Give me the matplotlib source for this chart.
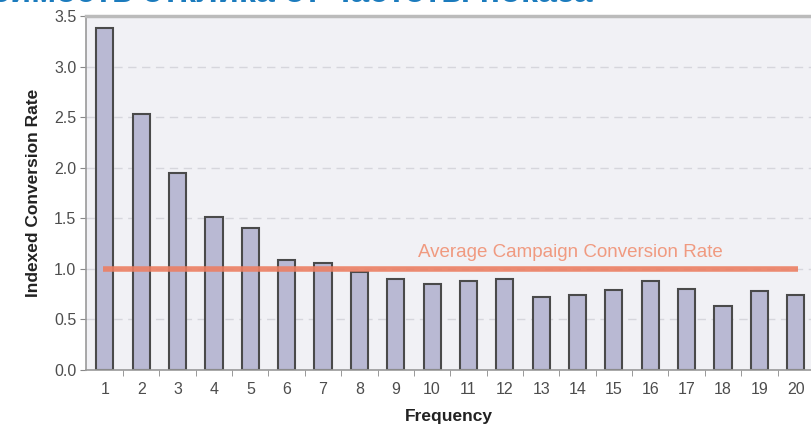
import matplotlib.pyplot as plt

plt.rcParams['font.family'] = ['Liberation Sans', 'DejaVu Sans']

# data
frequency = list(range(1, 21))
conversion = [3.39, 2.53, 1.95, 1.51, 1.41, 1.09, 1.06, 0.97, 0.90, 0.85,
              0.88, 0.90, 0.72, 0.74, 0.79, 0.88, 0.80, 0.63, 0.78, 0.74]
average_rate = 1.0
avg_label = "Average Campaign Conversion Rate"
title = "Зависимость отклика от частоты показа"

fig = plt.figure(figsize=(8.11, 4.33), dpi=100)
ax = fig.add_axes([0.106, 0.1455, 0.894, 0.8165])
ax.set_facecolor('#f1f1f5')

# grid
ax.set_axisbelow(True)
ax.yaxis.grid(True, color='#d6d6dc', linestyle=(0, (6, 4)), linewidth=1)

# bars
ax.bar(frequency, conversion, width=0.47, color='#b9b9d3',
       edgecolor='#4a4a4a', linewidth=1.5, zorder=2)

# average line
ax.plot([frequency[0] - 0.05, frequency[-1] + 0.05], [average_rate, average_rate],
        color='#ec7f63', linewidth=4, alpha=0.9, solid_capstyle='butt', zorder=3)
ax.text(13.8, 1.16, avg_label, color='#f09a80', fontsize=13.5,
        ha='center', va='center', zorder=4)

ax.set_xlim(0.48, 20.42)
ax.set_ylim(0, 3.5)
ax.set_yticks([0, 0.5, 1.0, 1.5, 2.0, 2.5, 3.0, 3.5])
ax.set_yticklabels(['0.0', '0.5', '1.0', '1.5', '2.0', '2.5', '3.0', '3.5'])
ax.set_xticks(frequency)
ax.set_xticklabels([str(f) for f in frequency])
ax.set_xticks([f + 0.5 for f in frequency[:-1]], minor=True)
ax.tick_params(axis='x', which='major', length=0, pad=9, labelsize=11.5,
               labelcolor='#4d4d4d')
ax.tick_params(axis='x', which='minor', length=4, color='#888888', direction='out')
ax.tick_params(axis='y', length=4, color='#888888', labelsize=11.5,
               labelcolor='#4d4d4d', pad=3)

ax.spines['right'].set_visible(False)
ax.spines['top'].set_color('#bbbbbb')
ax.spines['top'].set_linewidth(2.5)
ax.spines['left'].set_color('#999999')
ax.spines['left'].set_linewidth(1.2)
ax.spines['bottom'].set_color('#999999')
ax.spines['bottom'].set_linewidth(1.2)

ax.set_ylabel('Indexed Conversion Rate', fontsize=12.5, fontweight='bold',
              color='#222222', labelpad=9)
ax.set_xlabel('Frequency', fontsize=12.5, fontweight='bold', color='#222222',
              labelpad=8)

# title, cut by the top edge as in the reference
fig.text(0.731, 0.996, title, color='#1b7bbd', fontsize=24.5,
         fontweight='bold', ha='right', va='baseline')

fig.savefig('out.png', dpi=100)
